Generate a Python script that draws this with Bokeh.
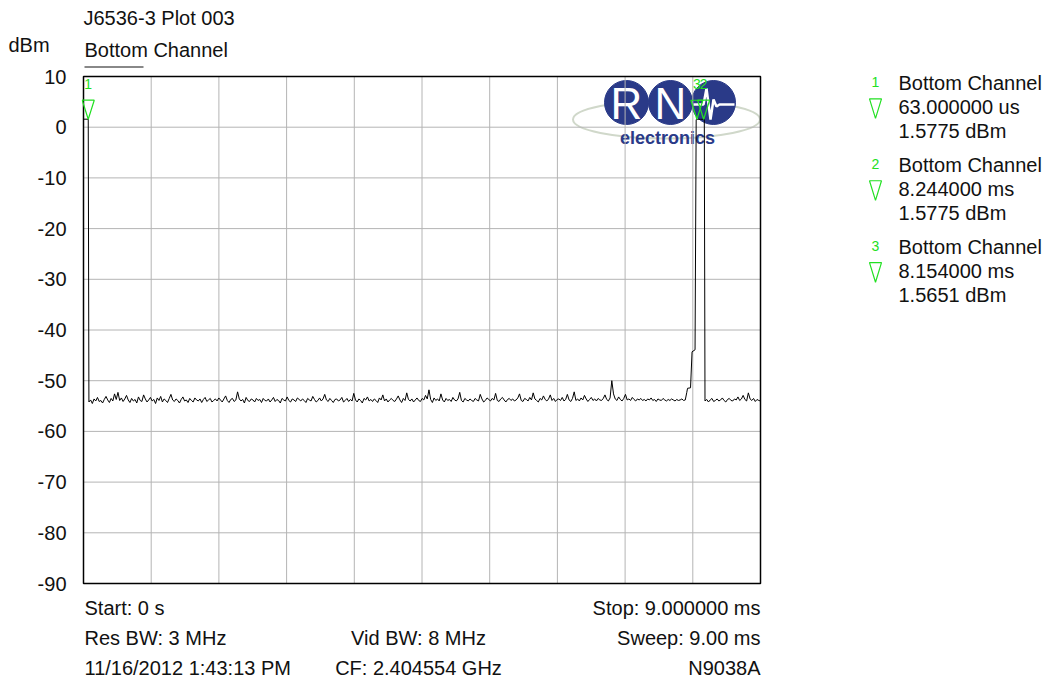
import numpy as np
from bokeh.plotting import figure
from bokeh.layouts import column, row
from bokeh.models import Range1d, FixedTicker
from bokeh.core.properties import value
from bokeh.embed import file_html
from bokeh.resources import INLINE

# ---------------- data ----------------
plot_title = "J6536-3 Plot 003"
y_unit = "dBm"
trace_name = "Bottom Channel"
y_ticks = list(range(-90, 11, 10))
x_grid_ms = [0.9 * i for i in range(11)]

# trace: start segment (signal present at sweep start)
edge_t = [0.0, 0.063]
edge_v = [1.5775, 1.5775]

# noise floor, 0.072 .. 8.00 ms
noise_a = [
    -54.2, -53.8, -54.5, -53.6, -54.0, -53.3, -54.1, -53.9, -54.4, -53.7, -53.1, -53.8, -54.3, -53.5, -54.0, -52.6, -53.7, -52.3, -53.9, -53.4, -54.1, -53.6, -52.9, -53.8, -54.3,
    -53.5, -54.0, -53.7, -54.4, -53.2, -53.9, -54.1, -52.8, -53.6, -54.2, -53.8, -53.3, -54.0, -53.7, -54.5, -53.4, -53.9, -53.1, -54.2, -53.6, -53.9, -54.3, -53.5, -52.7, -53.8,
    -54.1, -53.6, -53.9, -54.4, -53.7, -53.2, -54.0, -53.8, -54.3, -53.5, -53.9, -54.2, -53.4, -53.8, -54.0, -53.6, -54.3, -53.7, -53.3, -54.1, -53.8, -53.5, -54.2, -53.9, -53.6,
    -54.0, -53.4, -53.8, -54.2, -53.6, -53.0, -53.9, -54.3, -53.7, -53.5, -54.1, -53.8, -52.2, -53.6, -54.0, -53.7, -54.4, -53.3, -53.9, -54.1, -53.6, -53.8, -54.2, -53.5, -53.9,
    -53.7, -54.3, -53.5, -53.9, -54.0, -53.6, -54.2, -53.8, -53.3, -54.1, -53.7, -53.9, -54.4, -53.5, -53.8, -54.0, -53.2, -53.9, -54.2, -53.6, -53.8, -54.1, -53.4, -53.7, -54.0,
    -53.6, -53.9, -54.3, -53.5, -53.8, -54.0, -53.1, -53.7, -54.2, -53.9, -53.4, -54.0, -53.6, -52.7, -53.8, -54.1, -53.5, -53.9, -54.3, -53.7, -53.6, -54.0, -53.8, -53.3, -54.2,
    -53.9, -53.5, -54.1, -53.7, -54.0, -52.5, -53.8, -54.2, -53.6, -53.9, -54.4, -53.5, -53.8, -53.2, -54.0, -53.7, -54.1, -53.6, -53.9, -54.3, -53.4, -53.8, -52.8, -54.0, -53.6,
    -54.2, -53.8, -53.5, -53.9, -54.1, -53.6, -53.0, -53.8, -54.3, -53.5, -53.9, -52.4, -53.7, -54.0, -53.6, -54.2, -53.8, -53.4, -53.9, -54.1, -53.5, -53.8, -52.9, -53.6, -51.8,
    -53.7, -54.3, -53.4, -53.9, -53.6, -54.0, -52.6, -53.8, -54.2, -53.5, -53.9, -53.7, -54.1, -53.3, -53.8, -54.0, -53.6, -52.3, -53.9, -54.2, -53.5, -53.8, -54.0, -53.6, -53.9,
    -54.1, -53.5, -53.8, -54.0, -52.7, -53.6, -54.2, -53.9, -53.4, -53.7, -54.0, -53.5, -53.8, -52.5, -53.9, -54.1, -53.6, -53.3, -53.8, -54.2, -53.7, -53.5, -53.9, -53.6, -54.0,
    -53.8, -53.4, -52.6, -53.9, -54.1, -53.5, -53.7, -54.0, -53.3, -53.8, -52.4, -53.6, -53.9, -54.2, -53.5, -53.8, -53.0, -53.7, -54.0, -53.6, -52.8, -53.9, -53.5, -54.1, -53.7,
    -53.6, -53.9, -53.3, -54.0, -53.7, -52.7, -53.8, -54.1, -53.5, -52.2, -53.9, -53.6, -54.0, -53.4, -53.8, -52.9, -53.6, -54.1, -53.7, -53.3, -53.9, -53.6, -54.0, -53.5, -53.8,
    -53.9, -53.5, -52.8, -53.7, -54.0, -53.4, -50.0, -52.6, -53.6, -53.9, -53.2, -53.7, -54.0, -53.5, -52.7, -53.8, -53.6, -53.9, -53.3, -53.7, -54.0, -53.6, -53.8, -53.5, -53.9,
    -53.7, -54.0, -53.6, -53.8, -53.4, -53.9, -53.7, -54.1, -53.6, -53.8, -53.9, -53.5, -53.8, -54.0, -53.7, -53.9, -53.6, -53.8, -54.0, -53.7, -53.9, -53.8, -53.6, -53.9, -53.8,
]
noise_a_t = np.linspace(0.072, 8.0, len(noise_a))

# burst
burst_t = [8.02, 8.03, 8.07, 8.09, 8.13, 8.145, 8.154, 8.20, 8.244, 8.253]
burst_v = [-52.3, -51.5, -51.4, -44.3, -43.9, 1.50, 1.5651, 1.55, 1.5775, 1.52]

# noise floor after burst, 8.262 .. 9.0 ms
noise_b = [-54.0, -53.7, -54.2, -53.8, -53.5, -54.1, -53.9, -53.6, -54.0, -53.8, -53.4, -53.9, -54.2, -53.7, -53.5, -53.9, -54.0,
           -53.6, -53.8, -53.2, -53.9, -53.6, -52.9, -53.7, -54.0, -52.4, -53.6, -53.9, -53.5, -54.1, -53.7, -53.9, -54.0]
noise_b_t = np.linspace(8.262, 9.0, len(noise_b))

# markers
marker_ids = ["1", "2", "3"]
marker_t = [0.063, 8.244, 8.154]
marker_v = [1.5775, 1.5775, 1.5651]
marker_time_text = ["63.000000 us", "8.244000 ms", "8.154000 ms"]
marker_amp_text = ["1.5775 dBm", "1.5775 dBm", "1.5651 dBm"]

# footer
footer_left = ["Start: 0 s", "Res BW: 3 MHz", "11/16/2012 1:43:13 PM"]
footer_mid = ["", "Vid BW: 8 MHz", "CF: 2.404554 GHz"]
footer_right = ["Stop: 9.000000 ms", "Sweep: 9.00 ms", "N9038A"]

# ---------------- layout ----------------
W, H = 1050, 684
BL, BR, BT, BB = 83, 760, 76, 583      # graticule box edges in page pixels
X0, X1, Y0, Y1 = 0.0, 9.0, -90.0, 10.0  # box edges in data units
HEAD_H = 60                             # full-width header strip
FRAME_L, FRAME_R, FRAME_T, FRAME_B = BL - 2, BR + 2, 62, BB + 2   # plotting frame (a bit larger than the box)
BODY_TOP, BODY_BOT = HEAD_H, BB + 10

FONT = "Liberation Sans"
TXT = "#111111"
GREEN = "#22e022"
NAVY = "#2a3a88"
GRID = "#b4b4b4"


def px2x(px):
    return X0 + (px - BL) / (BR - BL) * (X1 - X0)


def py2y(py):
    return Y1 - (py - BT) / (BB - BT) * (Y1 - Y0)


def strip(x0, x1, y0, y1):
    """blank figure whose data coordinates are page pixels (y downward)"""
    f = figure(width=x1 - x0, height=y1 - y0, x_range=Range1d(x0, x1), y_range=Range1d(y1, y0),
               x_axis_location=None, y_axis_location=None, toolbar_location=None, output_backend="svg",
               min_border=0)
    f.outline_line_color = None
    f.xgrid.visible = False
    f.ygrid.visible = False
    f.background_fill_color = "white"
    f.border_fill_color = "white"
    return f


def txt(f, px, py, text, align="left", size="20px", color=TXT):
    f.text(x=[px], y=[py], text=[text], text_font=value(FONT), text_font_size=size,
           text_color=color, text_align=align, text_baseline="middle")


# main plot
yr = Range1d(py2y(FRAME_B), py2y(FRAME_T))
p = figure(width=FRAME_R - FRAME_L, height=BODY_BOT - BODY_TOP,
           x_range=Range1d(px2x(FRAME_L), px2x(FRAME_R)), y_range=yr,
           x_axis_location=None, y_axis_location=None, toolbar_location=None, output_backend="svg",
           min_border_left=0, min_border_right=0, min_border_top=FRAME_T - BODY_TOP, min_border_bottom=BODY_BOT - FRAME_B)
p.outline_line_color = None
p.xgrid.visible = False
p.ygrid.visible = False
p.background_fill_color = "white"
p.border_fill_color = "white"

# y axis in its own narrow figure, sharing the y range
axf = figure(width=FRAME_L, height=BODY_BOT - BODY_TOP, x_range=Range1d(0, 1), y_range=yr,
             x_axis_location=None, y_axis_location="left", toolbar_location=None, output_backend="svg",
             min_border_left=FRAME_L - 2, min_border_right=0,
             min_border_top=FRAME_T - BODY_TOP, min_border_bottom=BODY_BOT - FRAME_B)
axf.outline_line_color = None
axf.xgrid.visible = False
axf.ygrid.visible = False
axf.border_fill_color = "white"
axf.background_fill_color = "white"
yax = axf.yaxis[0]
yax.ticker = FixedTicker(ticks=y_ticks)
yax.major_label_overrides = {t: str(t) for t in y_ticks}
yax.axis_line_color = None
yax.major_tick_line_color = None
yax.minor_tick_line_color = None
yax.major_label_standoff = FRAME_L - 2 - 72
yax.major_label_text_font = FONT
yax.major_label_text_font_size = "20px"
yax.major_label_text_color = TXT

# logo (below the graticule)
p.ellipse(x=[px2x(666)], y=[py2y(119)], width=[187], height=[38], width_units="screen", height_units="screen",
          fill_color=None, line_color="#d0d8ca", line_width=2, level="image")
p.scatter(x=[px2x(626), px2x(670), px2x(713)], y=[py2y(102)] * 3, size=44, marker="circle",
          fill_color=NAVY, line_color=NAVY, level="image")
p.text(x=[px2x(626), px2x(670)], y=[py2y(103)] * 2, text=["R", "N"], text_font=value(FONT),
       text_font_size="44px", text_color="white", text_align="center", text_baseline="middle", level="image")
hb_px = [693, 703, 706, 710, 713, 716, 719, 734]
hb_py = [104, 104, 88, 119, 99, 106, 104, 104]
p.line(x=[px2x(v) for v in hb_px], y=[py2y(v) for v in hb_py], line_color="white", line_width=2.5, level="image")
p.text(x=[px2x(667)], y=[py2y(137)], text=["electronics"], text_font=value(FONT), text_font_style="bold",
       text_font_size="18px", text_color=NAVY, text_align="center", text_baseline="middle", level="image")

# graticule
p.segment(x0=[X0] * len(y_ticks), y0=y_ticks, x1=[X1] * len(y_ticks), y1=y_ticks, line_color=GRID, line_width=1)
p.segment(x0=x_grid_ms, y0=[Y0] * len(x_grid_ms), x1=x_grid_ms, y1=[Y1] * len(x_grid_ms), line_color=GRID, line_width=1)
p.quad(left=[X0], right=[X1], bottom=[Y0], top=[Y1], fill_color=None, line_color="black", line_width=1.5)

# underline of the trace name (sits just above the box)
p.segment(x0=[px2x(84)], y0=[py2y(66.5)], x1=[px2x(143)], y1=[py2y(66.5)], line_color="#888888", line_width=2)

# trace
t = list(edge_t) + list(noise_a_t) + list(burst_t) + list(noise_b_t)
v = list(edge_v) + list(noise_a) + list(burst_v) + list(noise_b)
p.line(x=t, y=v, line_color="black", line_width=1)

# marker triangles (tip on the marker point)
dx = 6 / (BR - BL) * (X1 - X0)
dy = 19 / (BB - BT) * (Y1 - Y0)
p.patches(xs=[[mt - dx, mt + dx, mt] for mt in marker_t],
          ys=[[mv + dy, mv + dy, mv] for mv in marker_v],
          fill_color=None, line_color=GREEN, line_width=1.2)
lab_dy = 35 / (BB - BT) * (Y1 - Y0)
p.text(x=marker_t, y=[mv + lab_dy for mv in marker_v], text=marker_ids, text_font=value(FONT),
       text_font_size="14px", text_color=GREEN, text_align="center", text_baseline="middle")

# header (full width)
head = strip(0, W, 0, HEAD_H)
txt(head, 83, 17, plot_title)
txt(head, 8, 44, y_unit)
txt(head, 84, 49, trace_name)

# marker table on the right
leg = strip(FRAME_R, W, BODY_TOP, BODY_BOT)
for i in range(3):
    base = 81 + 83.5 * i
    txt(leg, 875, base - 1, marker_ids[i], align="center", size="14px", color=GREEN)
    leg.patches(xs=[[869, 881, 875]], ys=[[base + 16, base + 16, base + 36]],
                fill_color=None, line_color=GREEN, line_width=1.2)
    txt(leg, 898, base, trace_name)
    txt(leg, 898, base + 24.5, marker_time_text[i])
    txt(leg, 898, base + 49, marker_amp_text[i])

# footer
foot = strip(0, W, BODY_BOT, H)
row_y = [607, 637, 667]
for i in range(3):
    txt(foot, 84, row_y[i], footer_left[i])
    if footer_mid[i]:
        txt(foot, 418, row_y[i], footer_mid[i], align="center")
    txt(foot, 760, row_y[i], footer_right[i], align="right")

page = column(head, row(axf, p, leg), foot)
open("out.html", "w").write(file_html(page, INLINE))
